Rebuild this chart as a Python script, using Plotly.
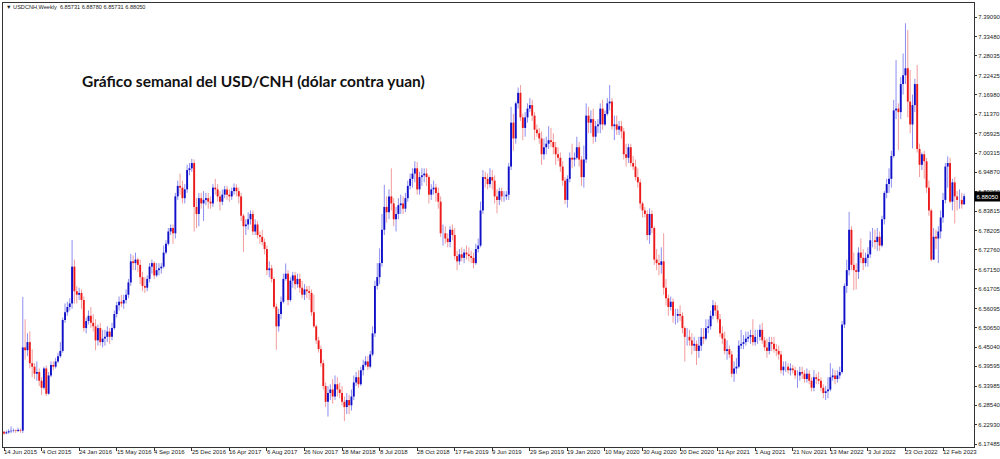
import plotly.graph_objects as go

# ---------------- data (weekly USDCNH candles, week 0 = 14 Jun 2015) ----------------
opens = [
    6.2095, 6.2050, 6.2080, 6.2110, 6.2125, 6.2135, 6.2120, 6.2150, 6.2130, 6.4500,
    6.4420, 6.4650, 6.4050, 6.3950, 6.3750, 6.3800, 6.3550, 6.3350, 6.3900, 6.3180,
    6.3700, 6.4000, 6.3950, 6.4100, 6.4250, 6.4400, 6.5280, 6.5500, 6.5650, 6.5750,
    6.6800, 6.6100, 6.6000, 6.6050, 6.5850, 6.5050, 6.5250, 6.5400, 6.5200, 6.5100,
    6.4700, 6.5050, 6.4650, 6.4750, 6.4800, 6.4950, 6.4800, 6.5050, 6.5450, 6.5700,
    6.5800, 6.5750, 6.5850, 6.6000, 6.6350, 6.6950, 6.6900, 6.7000, 6.6850, 6.6500,
    6.6250, 6.6200, 6.6450, 6.6800, 6.6900, 6.6550, 6.6700, 6.6750, 6.6800, 6.7200,
    6.7450, 6.7800, 6.7900, 6.7750, 6.8800, 6.9100, 6.9050, 6.8750, 6.9000, 6.9550,
    6.9600, 6.9750, 6.8500, 6.8300, 6.8750, 6.8600, 6.8700, 6.8750, 6.8650, 6.8600,
    6.9050, 6.9000, 6.8800, 6.8650, 6.8850, 6.9000, 6.8850, 6.8800, 6.8950, 6.9050,
    6.8950, 6.8800, 6.8250, 6.7950, 6.8000, 6.8150, 6.8300, 6.7800, 6.8000, 6.7700,
    6.7650, 6.7500, 6.7300, 6.6700, 6.6750, 6.6450, 6.5660, 6.5100, 6.5450, 6.5800,
    6.6450, 6.6600, 6.5850, 6.6400, 6.6550, 6.6300, 6.6450, 6.6200, 6.6000, 6.6150,
    6.6100, 6.6050, 6.5500, 6.5100, 6.4700, 6.4450, 6.4050, 6.3400, 6.2950, 6.3200,
    6.3300, 6.3100, 6.3450, 6.3300, 6.3200, 6.2950, 6.2800, 6.3000, 6.2850, 6.3100,
    6.3500, 6.3650, 6.3450, 6.3850, 6.4000, 6.4100, 6.3950, 6.4300, 6.4900, 6.6250,
    6.6500, 6.6900, 6.7850, 6.8500, 6.8350, 6.8800, 6.8600, 6.8150, 6.8300, 6.8550,
    6.8600, 6.8450, 6.8750, 6.9100, 6.9300, 6.9450, 6.9600, 6.9000, 6.9350, 6.9400,
    6.9450, 6.9350, 6.8850, 6.9000, 6.9050, 6.8900, 6.8650, 6.7750, 6.7750, 6.7600,
    6.7500, 6.7850, 6.7700, 6.7100, 6.6950, 6.7150, 6.7050, 6.7200, 6.7150, 6.7100,
    6.7050, 6.6900, 6.7300, 6.7400, 6.8400, 6.9350, 6.9300, 6.9150, 6.9350, 6.9250,
    6.8800, 6.8700, 6.8950, 6.8800, 6.8800, 6.8850, 6.9650, 7.0900, 7.0450, 7.1450,
    7.1750, 7.1050, 7.0750, 7.1050, 7.1300, 7.1400, 7.1100, 7.0700, 7.0600, 7.0450,
    7.0000, 7.0200, 7.0300, 7.0400, 7.0350, 7.0200, 7.0000, 6.9900, 6.9650, 6.9250,
    6.8700, 6.9300, 6.9900, 6.9850, 6.9900, 7.0200, 6.9850, 6.9350, 6.9850, 7.1100,
    7.0900, 7.1000, 7.0500, 7.0800, 7.0850, 7.1300, 7.0850, 7.1150, 7.1450, 7.1500,
    7.0800, 7.0850, 7.0700, 7.0800, 7.0650, 7.0000, 6.9900, 7.0200, 6.9750, 6.9650,
    6.9350, 6.9200, 6.8600, 6.8400, 6.8300, 6.7700, 6.8300, 6.7900, 6.7000, 6.6900,
    6.6850, 6.6950, 6.6200, 6.5900, 6.5650, 6.5800, 6.5400, 6.5400, 6.5450, 6.5400,
    6.5050, 6.4800, 6.4800, 6.4700, 6.4550, 6.4600, 6.4400, 6.4550, 6.4800, 6.4750,
    6.5050, 6.5100, 6.5400, 6.5700, 6.5550, 6.5300, 6.4900, 6.4750, 6.4400, 6.4450,
    6.4300, 6.3750, 6.3900, 6.3950, 6.4550, 6.4600, 6.4650, 6.4750, 6.4800, 6.4850,
    6.4650, 6.4800, 6.4800, 6.5000, 6.4700, 6.4500, 6.4400, 6.4650, 6.4600, 6.4450,
    6.4400, 6.4300, 6.3850, 6.3950, 6.3950, 6.3850, 6.3900, 6.3850, 6.3700, 6.3700,
    6.3800, 6.3750, 6.3600, 6.3750, 6.3550, 6.3350, 6.3650, 6.3600, 6.3550, 6.3350,
    6.3200, 6.3250, 6.3300, 6.3650, 6.3700, 6.3600, 6.3700, 6.3800, 6.5150, 6.6250,
    6.6700, 6.7850, 6.6850, 6.6700, 6.6650, 6.7200, 6.7050, 6.6900, 6.7050, 6.7150,
    6.7550, 6.7550, 6.7500, 6.7650, 6.7400, 6.8150, 6.8900, 6.9150, 6.9300, 6.9950,
    7.1250, 7.1300, 7.1200, 7.2000, 7.2250, 7.2450, 7.1500, 7.0850, 7.1400, 7.2000,
    7.0150, 6.9700, 7.0000, 6.9800, 6.9050, 6.8400, 6.7000, 6.7650, 6.7600, 6.7800,
    6.8200, 6.8700, 6.9650, 6.9750, 6.8650, 6.9200, 6.8800, 6.8700, 6.8700, 6.85731,
]

highs = [
    6.2120, 6.2130, 6.2170, 6.2250, 6.2190, 6.2160, 6.2210, 6.2190, 6.5940, 6.5300,
    6.4900, 6.4950, 6.4450, 6.4050, 6.4100, 6.3900, 6.3650, 6.3950, 6.3980, 6.3800,
    6.4100, 6.4100, 6.4200, 6.4350, 6.4650, 6.5350, 6.5750, 6.5800, 6.5900, 6.7560,
    6.7000, 6.6250, 6.6200, 6.6150, 6.5950, 6.5350, 6.5550, 6.5650, 6.5450, 6.5300,
    6.5150, 6.5200, 6.5000, 6.5000, 6.5100, 6.5050, 6.5200, 6.5550, 6.5800, 6.5950,
    6.6000, 6.6000, 6.6150, 6.6450, 6.7160, 6.7120, 6.7200, 6.7050, 6.7000, 6.6650,
    6.6500, 6.6550, 6.6900, 6.7000, 6.6950, 6.6900, 6.6900, 6.6900, 6.7400, 6.7550,
    6.7900, 6.8000, 6.8000, 6.8900, 6.9250, 6.9450, 6.9250, 6.9150, 6.9700, 6.9750,
    6.9870, 6.9850, 6.8750, 6.8900, 6.8900, 6.8950, 6.8900, 6.8900, 6.8800, 6.9150,
    6.9300, 6.9150, 6.8950, 6.9000, 6.9100, 6.9100, 6.9000, 6.9050, 6.9170, 6.9150,
    6.9050, 6.8900, 6.8300, 6.8150, 6.8350, 6.8400, 6.8400, 6.8150, 6.8100, 6.7800,
    6.7850, 6.7600, 6.7400, 6.6950, 6.6850, 6.6500, 6.5750, 6.5600, 6.5950, 6.6600,
    6.6890, 6.6700, 6.6500, 6.6650, 6.6650, 6.6600, 6.6600, 6.6400, 6.6300, 6.6250,
    6.6250, 6.6150, 6.6000, 6.5150, 6.4800, 6.4550, 6.4150, 6.3500, 6.3400, 6.3450,
    6.3600, 6.3700, 6.3650, 6.3500, 6.3400, 6.3100, 6.3200, 6.3150, 6.3300, 6.3700,
    6.3800, 6.3850, 6.3950, 6.4150, 6.4250, 6.4250, 6.4400, 6.5100, 6.6400, 6.6900,
    6.7320, 6.8300, 6.9130, 6.8800, 6.9000, 6.9600, 6.8750, 6.8500, 6.8750, 6.8850,
    6.8800, 6.8900, 6.9250, 6.9450, 6.9600, 6.9800, 6.9780, 6.9500, 6.9600, 6.9600,
    6.9600, 6.9400, 6.9150, 6.9250, 6.9150, 6.9050, 6.8800, 6.8000, 6.7950, 6.7750,
    6.7950, 6.8000, 6.7900, 6.7250, 6.7300, 6.7350, 6.7300, 6.7400, 6.7350, 6.7250,
    6.7200, 6.7450, 6.7600, 6.8650, 6.9550, 6.9500, 6.9450, 6.9600, 6.9550, 6.9400,
    6.9000, 6.9050, 6.9050, 6.8950, 6.8950, 6.9750, 7.1350, 7.1150, 7.1500, 7.1900,
    7.1970, 7.1150, 7.1200, 7.1450, 7.1600, 7.1550, 7.1200, 7.0850, 7.0750, 7.0650,
    7.0450, 7.0500, 7.0800, 7.0750, 7.0600, 7.0350, 7.0200, 7.0050, 6.9800, 6.9350,
    6.9400, 7.0050, 7.0300, 7.0050, 7.0500, 7.0350, 6.9950, 7.0250, 7.1450, 7.1350,
    7.1250, 7.1300, 7.0950, 7.1000, 7.1450, 7.1550, 7.1250, 7.1600, 7.1970, 7.1600,
    7.1100, 7.1100, 7.0950, 7.0950, 7.0750, 7.0300, 7.0300, 7.0300, 6.9950, 6.9850,
    6.9600, 6.9300, 6.8650, 6.8500, 6.8400, 6.8460, 6.8400, 6.7950, 6.7300, 6.7150,
    6.7350, 6.7750, 6.6450, 6.6000, 6.5950, 6.5900, 6.5600, 6.5600, 6.5700, 6.5500,
    6.5100, 6.5050, 6.5000, 6.4900, 6.4800, 6.4700, 6.4800, 6.5050, 6.5050, 6.5300,
    6.5300, 6.5550, 6.5850, 6.5800, 6.5700, 6.5450, 6.5100, 6.4950, 6.4700, 6.4550,
    6.4400, 6.4100, 6.4200, 6.4700, 6.5000, 6.4850, 6.4950, 6.4950, 6.5000, 6.5300,
    6.5000, 6.5000, 6.5150, 6.5200, 6.4800, 6.4750, 6.4800, 6.4800, 6.4800, 6.4600,
    6.4550, 6.4400, 6.4100, 6.4100, 6.4050, 6.4050, 6.4000, 6.3950, 6.3850, 6.3950,
    6.3950, 6.3850, 6.3900, 6.3850, 6.3650, 6.3850, 6.3750, 6.3800, 6.3650, 6.3450,
    6.3400, 6.3650, 6.4050, 6.3900, 6.3850, 6.3850, 6.3950, 6.5250, 6.6320, 6.7000,
    6.8360, 6.7950, 6.7200, 6.6900, 6.7350, 6.7600, 6.7300, 6.7200, 6.7350, 6.7800,
    6.7900, 6.7850, 6.7900, 6.7800, 6.8250, 6.8950, 6.9300, 6.9600, 7.0100, 7.1550,
    7.2680, 7.1450, 7.2200, 7.2870, 7.3730, 7.3540, 7.2400, 7.1700, 7.2150, 7.2540,
    7.0300, 7.0050, 7.0100, 6.9900, 6.9250, 6.8450, 6.7900, 6.7850, 6.7950, 6.8400,
    6.8900, 6.9750, 6.9940, 6.9900, 6.9300, 6.9350, 6.8950, 6.9000, 6.8900, 6.88780,
]

lows = [
    6.2010, 6.2030, 6.2040, 6.2060, 6.2080, 6.2060, 6.2090, 6.2070, 6.2060, 6.4150,
    6.4250, 6.3900, 6.3650, 6.3600, 6.3550, 6.3400, 6.3150, 6.3300, 6.3120, 6.3150,
    6.3650, 6.3850, 6.3900, 6.4050, 6.4200, 6.4350, 6.5200, 6.5400, 6.5550, 6.5600,
    6.5750, 6.5750, 6.5850, 6.5600, 6.4950, 6.4900, 6.5150, 6.5050, 6.4950, 6.4420,
    6.4550, 6.4550, 6.4500, 6.4550, 6.4650, 6.4600, 6.4700, 6.5000, 6.5350, 6.5550,
    6.5650, 6.5600, 6.5750, 6.5900, 6.6250, 6.6700, 6.6700, 6.6650, 6.6300, 6.6100,
    6.6050, 6.6100, 6.6350, 6.6600, 6.6450, 6.6500, 6.6550, 6.6600, 6.6750, 6.7150,
    6.7400, 6.7700, 6.7450, 6.7600, 6.8700, 6.8850, 6.8600, 6.8600, 6.8900, 6.9400,
    6.9500, 6.7800, 6.7900, 6.7950, 6.8450, 6.8100, 6.8550, 6.8450, 6.8450, 6.8500,
    6.8850, 6.8650, 6.8400, 6.8550, 6.8750, 6.8700, 6.8650, 6.8700, 6.8850, 6.8800,
    6.8600, 6.8100, 6.7220, 6.7700, 6.7850, 6.8000, 6.7700, 6.7700, 6.7600, 6.7450,
    6.7400, 6.7150, 6.6560, 6.6500, 6.6350, 6.5600, 6.4430, 6.4950, 6.5300, 6.5750,
    6.6400, 6.5700, 6.5800, 6.6200, 6.6150, 6.6200, 6.6050, 6.5900, 6.5850, 6.5900,
    6.5850, 6.5400, 6.5050, 6.4600, 6.4350, 6.3950, 6.3300, 6.2800, 6.2530, 6.3000,
    6.2900, 6.3000, 6.3100, 6.3050, 6.2850, 6.2400, 6.2600, 6.2600, 6.2700, 6.3000,
    6.3400, 6.3350, 6.3400, 6.3700, 6.3950, 6.3850, 6.3900, 6.4250, 6.4800, 6.6150,
    6.6300, 6.6800, 6.7700, 6.8050, 6.8150, 6.8400, 6.7950, 6.7800, 6.8150, 6.8300,
    6.8300, 6.8350, 6.8650, 6.9000, 6.9050, 6.9200, 6.8850, 6.8850, 6.9100, 6.9200,
    6.9100, 6.8600, 6.8700, 6.8850, 6.8650, 6.8450, 6.7650, 6.7400, 6.7450, 6.7350,
    6.7350, 6.7550, 6.7000, 6.6700, 6.6850, 6.6950, 6.6900, 6.7000, 6.6950, 6.6900,
    6.6750, 6.6850, 6.7200, 6.7350, 6.8300, 6.9050, 6.9000, 6.9050, 6.9000, 6.8600,
    6.8320, 6.8550, 6.8650, 6.8650, 6.8700, 6.8700, 6.9550, 7.0100, 7.0300, 7.1300,
    7.0950, 7.0400, 7.0500, 7.0900, 7.1200, 7.0950, 7.0400, 7.0500, 7.0300, 6.9700,
    6.9850, 7.0000, 7.0150, 7.0200, 7.0000, 6.9700, 6.9800, 6.9500, 6.9100, 6.8580,
    6.8480, 6.9200, 6.9600, 6.9650, 6.9850, 6.9650, 6.9100, 6.9050, 6.9750, 7.0600,
    7.0600, 7.0300, 7.0350, 7.0600, 7.0600, 7.0700, 7.0800, 7.1100, 7.1250, 7.0700,
    7.0400, 7.0550, 7.0550, 7.0450, 6.9850, 6.9650, 6.9750, 6.9650, 6.9550, 6.9250,
    6.9050, 6.8450, 6.8200, 6.8200, 6.7550, 6.7450, 6.7750, 6.6850, 6.6700, 6.6550,
    6.6600, 6.6000, 6.5700, 6.5400, 6.5550, 6.5200, 6.5150, 6.5200, 6.5250, 6.4900,
    6.4100, 6.4550, 6.4550, 6.4300, 6.4400, 6.4000, 6.4200, 6.4400, 6.4600, 6.4700,
    6.4900, 6.5000, 6.5300, 6.5400, 6.5200, 6.4800, 6.4600, 6.4300, 6.4150, 6.4200,
    6.3650, 6.3520, 6.3750, 6.3900, 6.4450, 6.4450, 6.4550, 6.4650, 6.4600, 6.4550,
    6.4550, 6.4600, 6.4700, 6.4600, 6.4400, 6.4200, 6.4300, 6.4400, 6.4350, 6.4250,
    6.4150, 6.3750, 6.3700, 6.3800, 6.3750, 6.3700, 6.3750, 6.3600, 6.3350, 6.3550,
    6.3600, 6.3500, 6.3500, 6.3450, 6.3250, 6.3250, 6.3450, 6.3450, 6.3250, 6.3050,
    6.3000, 6.3050, 6.3250, 6.3550, 6.3450, 6.3500, 6.3600, 6.3750, 6.5050, 6.6050,
    6.6550, 6.6700, 6.6130, 6.6150, 6.6450, 6.6900, 6.6700, 6.6800, 6.6800, 6.7050,
    6.7350, 6.7300, 6.7250, 6.7250, 6.7350, 6.8000, 6.8750, 6.8900, 6.9050, 6.9900,
    7.1000, 7.0120, 7.1000, 7.1700, 7.2000, 7.1050, 7.0600, 7.0170, 7.1200, 7.0050,
    6.9350, 6.9550, 6.9300, 6.8900, 6.8250, 6.6950, 6.7000, 6.7300, 6.6900, 6.7600,
    6.8050, 6.8600, 6.9050, 6.8600, 6.8400, 6.8030, 6.8400, 6.8450, 6.8450, 6.85731,
]

closes = [
    6.2050, 6.2080, 6.2110, 6.2125, 6.2135, 6.2120, 6.2150, 6.2130, 6.4500, 6.4420,
    6.4650, 6.4050, 6.3950, 6.3750, 6.3800, 6.3550, 6.3350, 6.3900, 6.3180, 6.3700,
    6.4000, 6.3950, 6.4100, 6.4250, 6.4400, 6.5280, 6.5500, 6.5650, 6.5750, 6.6800,
    6.6100, 6.6000, 6.6050, 6.5850, 6.5050, 6.5250, 6.5400, 6.5200, 6.5100, 6.4700,
    6.5050, 6.4650, 6.4750, 6.4800, 6.4950, 6.4800, 6.5050, 6.5450, 6.5700, 6.5800,
    6.5750, 6.5850, 6.6000, 6.6350, 6.6950, 6.6900, 6.7000, 6.6850, 6.6500, 6.6250,
    6.6200, 6.6450, 6.6800, 6.6900, 6.6550, 6.6700, 6.6750, 6.6800, 6.7200, 6.7450,
    6.7800, 6.7900, 6.7750, 6.8800, 6.9100, 6.9050, 6.8750, 6.9000, 6.9550, 6.9600,
    6.9750, 6.8500, 6.8300, 6.8750, 6.8600, 6.8700, 6.8750, 6.8650, 6.8600, 6.9050,
    6.9000, 6.8800, 6.8650, 6.8850, 6.9000, 6.8850, 6.8800, 6.8950, 6.9050, 6.8950,
    6.8800, 6.8250, 6.7950, 6.8000, 6.8150, 6.8300, 6.7800, 6.8000, 6.7700, 6.7650,
    6.7500, 6.7300, 6.6700, 6.6750, 6.6450, 6.5660, 6.5100, 6.5450, 6.5800, 6.6450,
    6.6600, 6.5850, 6.6400, 6.6550, 6.6300, 6.6450, 6.6200, 6.6000, 6.6150, 6.6100,
    6.6050, 6.5500, 6.5100, 6.4700, 6.4450, 6.4050, 6.3400, 6.2950, 6.3200, 6.3300,
    6.3100, 6.3450, 6.3300, 6.3200, 6.2950, 6.2800, 6.3000, 6.2850, 6.3100, 6.3500,
    6.3650, 6.3450, 6.3850, 6.4000, 6.4100, 6.3950, 6.4300, 6.4900, 6.6250, 6.6500,
    6.6900, 6.7850, 6.8500, 6.8350, 6.8800, 6.8600, 6.8150, 6.8300, 6.8550, 6.8600,
    6.8450, 6.8750, 6.9100, 6.9300, 6.9450, 6.9600, 6.9000, 6.9350, 6.9400, 6.9450,
    6.9350, 6.8850, 6.9000, 6.9050, 6.8900, 6.8650, 6.7750, 6.7750, 6.7600, 6.7500,
    6.7850, 6.7700, 6.7100, 6.6950, 6.7150, 6.7050, 6.7200, 6.7150, 6.7100, 6.7050,
    6.6900, 6.7300, 6.7400, 6.8400, 6.9350, 6.9300, 6.9150, 6.9350, 6.9250, 6.8800,
    6.8700, 6.8950, 6.8800, 6.8800, 6.8850, 6.9650, 7.0900, 7.0450, 7.1450, 7.1750,
    7.1050, 7.0750, 7.1050, 7.1300, 7.1400, 7.1100, 7.0700, 7.0600, 7.0450, 7.0000,
    7.0200, 7.0300, 7.0400, 7.0350, 7.0200, 7.0000, 6.9900, 6.9650, 6.9250, 6.8700,
    6.9300, 6.9900, 6.9850, 6.9900, 7.0200, 6.9850, 6.9350, 6.9850, 7.1100, 7.0900,
    7.1000, 7.0500, 7.0800, 7.0850, 7.1300, 7.0850, 7.1150, 7.1450, 7.1500, 7.0800,
    7.0850, 7.0700, 7.0800, 7.0650, 7.0000, 6.9900, 7.0200, 6.9750, 6.9650, 6.9350,
    6.9200, 6.8600, 6.8400, 6.8300, 6.7700, 6.8300, 6.7900, 6.7000, 6.6900, 6.6850,
    6.6950, 6.6200, 6.5900, 6.5650, 6.5800, 6.5400, 6.5400, 6.5450, 6.5400, 6.5050,
    6.4800, 6.4800, 6.4700, 6.4550, 6.4600, 6.4400, 6.4550, 6.4800, 6.4750, 6.5050,
    6.5100, 6.5400, 6.5700, 6.5550, 6.5300, 6.4900, 6.4750, 6.4400, 6.4450, 6.4300,
    6.3750, 6.3900, 6.3950, 6.4550, 6.4600, 6.4650, 6.4750, 6.4800, 6.4850, 6.4650,
    6.4800, 6.4800, 6.5000, 6.4700, 6.4500, 6.4400, 6.4650, 6.4600, 6.4450, 6.4400,
    6.4300, 6.3850, 6.3950, 6.3950, 6.3850, 6.3900, 6.3850, 6.3700, 6.3700, 6.3800,
    6.3750, 6.3600, 6.3750, 6.3550, 6.3350, 6.3650, 6.3600, 6.3550, 6.3350, 6.3200,
    6.3250, 6.3300, 6.3650, 6.3700, 6.3600, 6.3700, 6.3800, 6.5150, 6.6250, 6.6700,
    6.7850, 6.6850, 6.6700, 6.6650, 6.7200, 6.7050, 6.6900, 6.7050, 6.7150, 6.7550,
    6.7550, 6.7500, 6.7650, 6.7400, 6.8150, 6.8900, 6.9150, 6.9300, 6.9950, 7.1250,
    7.1300, 7.1200, 7.2000, 7.2250, 7.2450, 7.1500, 7.0850, 7.1400, 7.2000, 7.0150,
    6.9700, 7.0000, 6.9800, 6.9050, 6.8400, 6.7000, 6.7650, 6.7600, 6.7800, 6.8200,
    6.8700, 6.9650, 6.9750, 6.8650, 6.9200, 6.8800, 6.8700, 6.8700, 6.85731, 6.88050,
]

date_labels = ["14 Jun 2015", "4 Oct 2015", "24 Jan 2016", "15 May 2016", "4 Sep 2016",
               "25 Dec 2016", "16 Apr 2017", "6 Aug 2017", "26 Nov 2017", "18 Mar 2018",
               "8 Jul 2018", "28 Oct 2018", "17 Feb 2019", "9 Jun 2019", "29 Sep 2019",
               "19 Jan 2020", "10 May 2020", "30 Aug 2020", "20 Dec 2020", "11 Apr 2021",
               "1 Aug 2021", "21 Nov 2021", "13 Mar 2022", "3 Jul 2022", "23 Oct 2022",
               "12 Feb 2023"]
date_label_weeks = [0, 16, 32, 48, 64, 80, 96, 112, 128, 144, 160, 176, 192, 208, 224,
                    240, 256, 272, 288, 304, 320, 336, 352, 368, 384, 400]

price_labels = ["7.39090", "7.33480", "7.28035", "7.22425", "7.16980", "7.11370", "7.05925",
                "7.00315", "6.94870", "6.89260", "6.83815", "6.78205", "6.72760", "6.67150",
                "6.61705", "6.56095", "6.50650", "6.45040", "6.39595", "6.33985", "6.28540",
                "6.22930", "6.17485"]

symbol_title = "USDCNH,Weekly"
chart_title = "Gráfico semanal del USD/CNH (dólar contra yuan)"

# ---------------- build candle segments ----------------
bull_wx, bull_wy, bull_bx, bull_by = [], [], [], []
bear_wx, bear_wy, bear_bx, bear_by = [], [], [], []
for i, (o, h, l, c) in enumerate(zip(opens, highs, lows, closes)):
    if c >= o:
        bull_wx += [i, i, None]; bull_wy += [l, h, None]
        bull_bx += [i, i, None]; bull_by += [o, c, None]
    else:
        bear_wx += [i, i, None]; bear_wy += [l, h, None]
        bear_bx += [i, i, None]; bear_by += [o, c, None]

BULL_BODY, BULL_WICK = "#1010c8", "#8e8ef0"
BEAR_BODY, BEAR_WICK = "#ec1a1a", "#f29c9c"

fig = go.Figure()
fig.add_trace(go.Scatter(x=bull_wx, y=bull_wy, mode="lines", line=dict(color=BULL_WICK, width=1), hoverinfo="skip"))
fig.add_trace(go.Scatter(x=bear_wx, y=bear_wy, mode="lines", line=dict(color=BEAR_WICK, width=1), hoverinfo="skip"))
fig.add_trace(go.Scatter(x=bull_bx, y=bull_by, mode="lines", line=dict(color=BULL_BODY, width=1.9), hoverinfo="skip"))
fig.add_trace(go.Scatter(x=bear_bx, y=bear_by, mode="lines", line=dict(color=BEAR_BODY, width=1.9), hoverinfo="skip"))

small_font = dict(family="Liberation Sans, Arial, sans-serif", size=6, color="#1a1a1a")

fig.update_layout(
    width=1000, height=459,
    margin=dict(l=3, r=26, t=3, b=12),
    paper_bgcolor="white", plot_bgcolor="white",
    showlegend=False,
    xaxis=dict(
        range=[-0.43, 413.2],
        tickmode="array", tickvals=date_label_weeks,
        ticks="outside", ticklen=3, tickwidth=1, tickcolor="#333333",
        showticklabels=False, automargin=False,
        showgrid=False, zeroline=False,
        showline=True, linecolor="#333333", linewidth=1, mirror=True,
        fixedrange=True,
    ),
    yaxis=dict(
        range=[6.1663, 7.4308], side="right",
        tickmode="array", tickvals=[float(t) for t in price_labels], ticktext=price_labels,
        ticks="outside", ticklen=2, tickwidth=1, tickcolor="#333333",
        tickfont=small_font, automargin=False,
        showgrid=False, zeroline=False,
        showline=True, linecolor="#333333", linewidth=1, mirror=True,
        fixedrange=True,
    ),
)

# date labels, left-aligned at their ticks (MetaTrader style)
for wk, lab in zip(date_label_weeks, date_labels):
    fig.add_annotation(xref="x", yref="paper", x=wk, y=0, xanchor="left", yanchor="top",
                       xshift=-1, yshift=-1, text=lab, showarrow=False, font=small_font,
                       borderpad=0)

header = "\u25BC " + symbol_title + "  " + " ".join(
    f"{v:.5f}" for v in (opens[-1], highs[-1], lows[-1], closes[-1]))
fig.add_annotation(xref="paper", yref="paper", x=0.001, y=0.991, xanchor="left", yanchor="middle",
                   text=header, showarrow=False,
                   font=dict(family="Liberation Sans, Arial, sans-serif", size=5.6, color="#1a1a1a"))
fig.add_annotation(xref="paper", yref="paper", x=0.0793, y=0.824, xanchor="left", yanchor="middle",
                   text="<b>" + chart_title + "</b>", showarrow=False,
                   font=dict(family="Lato, Open Sans, sans-serif", size=15.5, color="#111111"))
fig.add_annotation(xref="paper", yref="y", x=1.0, y=closes[-1], xanchor="left", yanchor="middle",
                   xshift=0, text=f"{closes[-1]:.5f}", showarrow=False,
                   font=dict(family="Liberation Sans, Arial, sans-serif", size=6, color="white"),
                   bgcolor="black", borderpad=1.5)

fig.write_html("out.html", config={"displayModeBar": False},
               post_script="document.body.style.margin='0';document.body.style.padding='0';")
